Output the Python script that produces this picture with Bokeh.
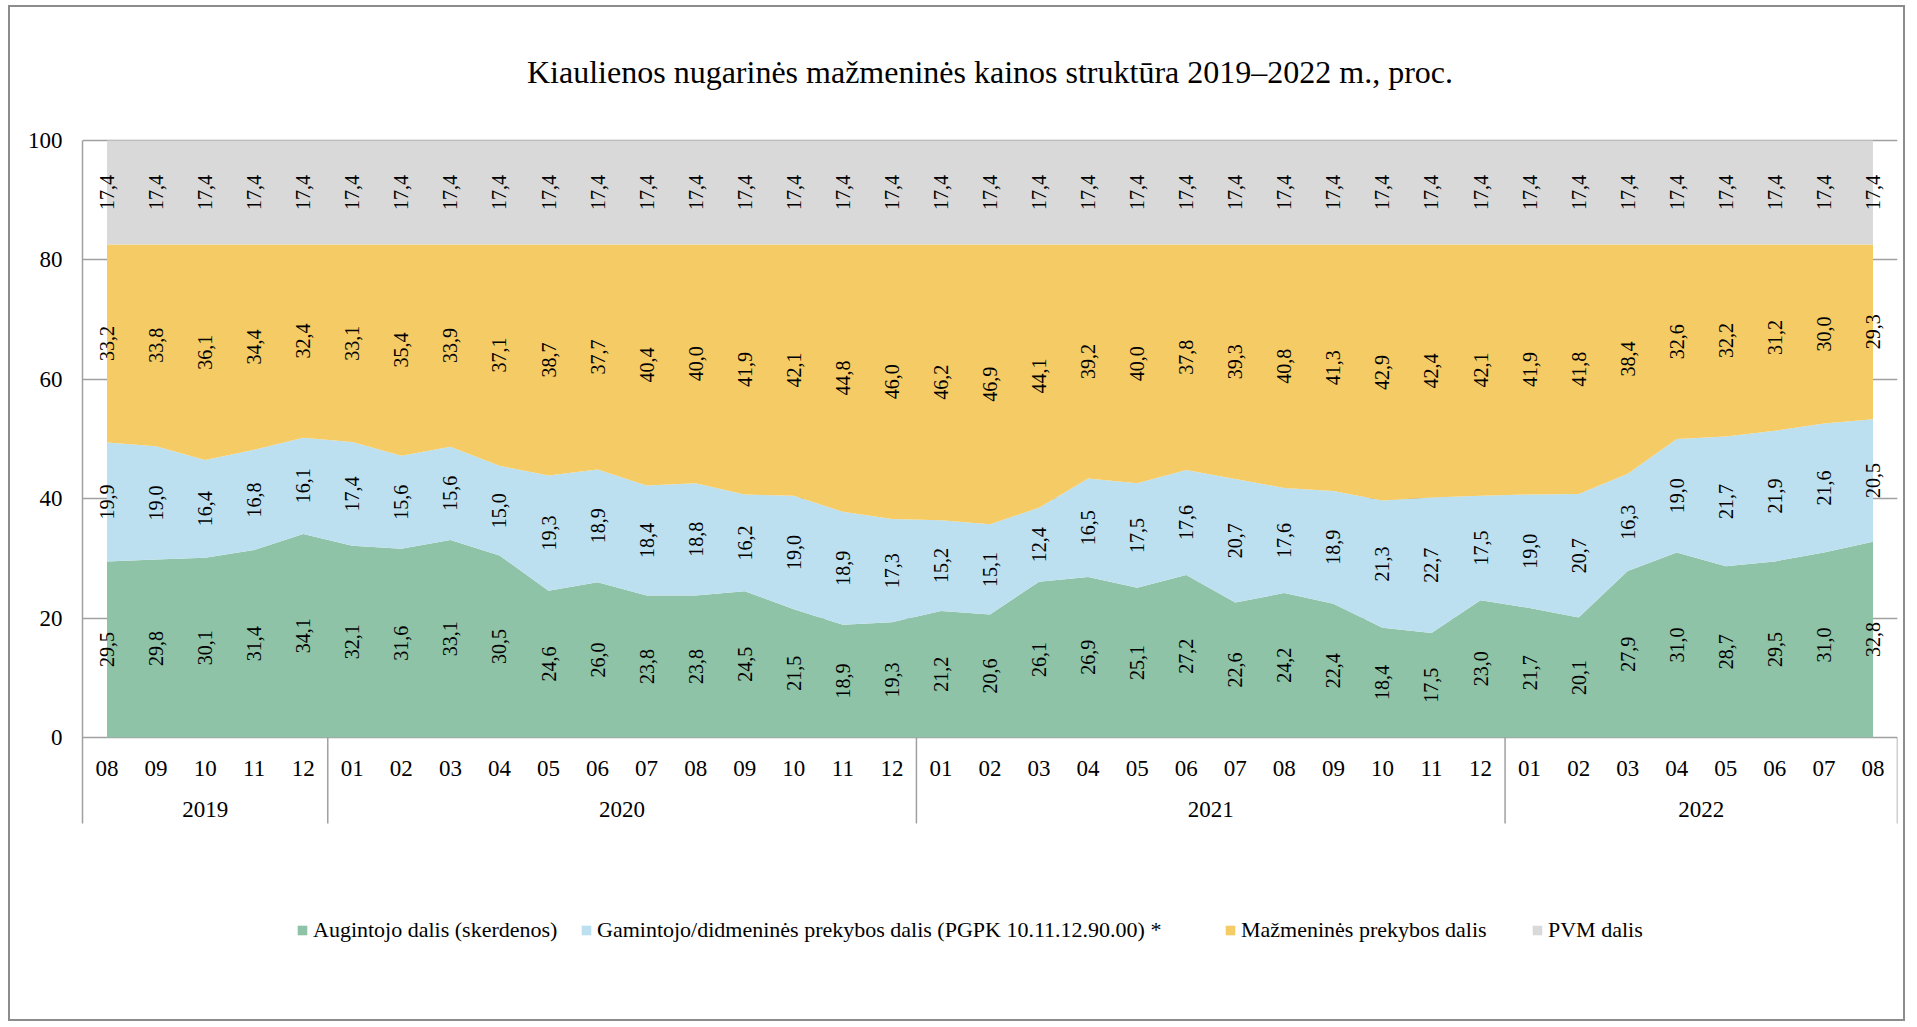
import numpy as np
from bokeh.plotting import figure
from bokeh.models import ColumnDataSource, Range1d, FixedTicker, Legend, LegendItem
from bokeh.core.properties import value
from bokeh.embed import file_html
from bokeh.resources import INLINE

# ---------------- data ----------------
title_text = "Kiaulienos nugarinės mažmeninės kainos struktūra 2019–2022 m., proc."
years = ["2019", "2020", "2021", "2022"]
months = [
    ["08", "09", "10", "11", "12"],
    ["01", "02", "03", "04", "05", "06", "07", "08", "09", "10", "11", "12"],
    ["01", "02", "03", "04", "05", "06", "07", "08", "09", "10", "11", "12"],
    ["01", "02", "03", "04", "05", "06", "07", "08"],
]
series_names = [
    "Augintojo dalis (skerdenos)",
    "Gamintojo/didmeninės prekybos dalis (PGPK 10.11.12.90.00) *",
    "Mažmeninės prekybos dalis",
    "PVM dalis",
]
augintojo = [29.5, 29.8, 30.1, 31.4, 34.1,
             32.1, 31.6, 33.1, 30.5, 24.6, 26.0, 23.8, 23.8, 24.5, 21.5, 18.9, 19.3,
             21.2, 20.6, 26.1, 26.9, 25.1, 27.2, 22.6, 24.2, 22.4, 18.4, 17.5, 23.0,
             21.7, 20.1, 27.9, 31.0, 28.7, 29.5, 31.0, 32.8]
gamintojo = [19.9, 19.0, 16.4, 16.8, 16.1,
             17.4, 15.6, 15.6, 15.0, 19.3, 18.9, 18.4, 18.8, 16.2, 19.0, 18.9, 17.3,
             15.2, 15.1, 12.4, 16.5, 17.5, 17.6, 20.7, 17.6, 18.9, 21.3, 22.7, 17.5,
             19.0, 20.7, 16.3, 19.0, 21.7, 21.9, 21.6, 20.5]
mazmenine = [33.2, 33.8, 36.1, 34.4, 32.4,
             33.1, 35.4, 33.9, 37.1, 38.7, 37.7, 40.4, 40.0, 41.9, 42.1, 44.8, 46.0,
             46.2, 46.9, 44.1, 39.2, 40.0, 37.8, 39.3, 40.8, 41.3, 42.9, 42.4, 42.1,
             41.9, 41.8, 38.4, 32.6, 32.2, 31.2, 30.0, 29.3]
pvm = [17.4, 17.4, 17.4, 17.4, 17.4,
       17.4, 17.4, 17.4, 17.4, 17.4, 17.4, 17.4, 17.4, 17.4, 17.4, 17.4, 17.4,
       17.4, 17.4, 17.4, 17.4, 17.4, 17.4, 17.4, 17.4, 17.4, 17.4, 17.4, 17.4,
       17.4, 17.4, 17.4, 17.4, 17.4, 17.4, 17.4, 17.4]
y_ticks = [0, 20, 40, 60, 80, 100]

# ---------------- styles ----------------
colors = ["#8EC3A7", "#BDE0F0", "#F5CB65", "#D9D9D9"]
FONT = "Liberation Serif"
AXIS_COL = "#A0A0A0"

# ---------------- layout (page pixels) ----------------
MARGIN_L, MARGIN_T = 8, 5
BORDER = 2
W, H = 1897, 1016
ORIGIN_X = MARGIN_L + BORDER     # canvas origin on page
ORIGIN_Y = MARGIN_T + BORDER
FRAME_L, FRAME_R = 82, 1897      # page x of frame edges
FRAME_T, FRAME_B = ORIGIN_Y, ORIGIN_Y + H - 2  # page y of frame edges
Y0_PX, Y100_PX = 737, 140        # page y of values 0 and 100
upp = 100.0 / (Y0_PX - Y100_PX)  # data units per pixel (y)


def ypx(py):
    return (Y0_PX - py) * upp


n = len(augintojo)
x = list(range(n))
series = [augintojo, gamintojo, mazmenine, pvm]
keys = ["a", "g", "m", "p"]
src = ColumnDataSource(dict(x=x, **{k: s for k, s in zip(keys, series)}))

p = figure(width=W, height=H, output_backend="svg", toolbar_location=None,
           x_range=Range1d(-0.5, n - 0.5),
           y_range=Range1d(ypx(FRAME_B), ypx(FRAME_T)),
           min_border_left=FRAME_L - ORIGIN_X, min_border_right=W - (FRAME_R - ORIGIN_X),
           min_border_top=0, min_border_bottom=H - (FRAME_B - ORIGIN_Y))
p.styles = {"border": f"{BORDER}px solid #8C8C8C",
            "margin": f"{MARGIN_T}px 0px 0px {MARGIN_L}px"}
p.outline_line_color = None
p.background_fill_color = "white"
p.border_fill_color = "white"
p.xaxis.visible = False
p.xgrid.visible = False

# y axis
ya = p.yaxis[0]
ya.ticker = FixedTicker(ticks=y_ticks)
ya.bounds = (ypx(823), 100)
ya.axis_line_color = AXIS_COL
ya.axis_line_width = 1.5
ya.major_tick_line_color = None
ya.minor_tick_line_color = None
ya.major_tick_out = 0
ya.major_tick_in = 0
ya.major_label_standoff = 20
ya.major_label_text_font = FONT
ya.major_label_text_font_size = "23px"
ya.major_label_text_color = "black"
p.ygrid.ticker = FixedTicker(ticks=y_ticks)
p.ygrid.grid_line_color = AXIS_COL
p.ygrid.grid_line_width = 1.5

# stacked areas
areas = p.varea_stack(stackers=keys, x="x", source=src, color=colors)

# data labels
lx, ly, lt = [], [], []
bottom = np.zeros(n)
for s in series:
    arr = np.array(s)
    for i in range(n):
        lx.append(i)
        ly.append(bottom[i] + arr[i] / 2)
        lt.append(f"{arr[i]:.1f}".replace(".", ","))
    bottom = bottom + arr
p.text(x=lx, y=ly, text=lt, angle=np.pi / 2, text_align="center", text_baseline="middle",
       text_font=value(FONT), text_font_size="20px", text_color="black")

# category axis: months, years and separators
mx, mt, yx, yt, sep = [], [], [], [], []
idx = 0
for yr, ms in zip(years, months):
    start = idx
    for m in ms:
        mx.append(idx)
        mt.append(m)
        idx += 1
    yx.append((start + idx - 1) / 2)
    yt.append(yr)
    sep.append(idx - 0.5)
p.text(x=mx, y=[ypx(768)] * len(mx), text=mt, text_align="center", text_baseline="middle",
       text_font=value(FONT), text_font_size="23px", text_color="black")
p.text(x=yx, y=[ypx(809)] * len(yx), text=yt, text_align="center", text_baseline="middle",
       text_font=value(FONT), text_font_size="23px", text_color="black")
p.segment(x0=sep, y0=[0] * len(sep), x1=sep, y1=[ypx(823)] * len(sep),
          line_color=AXIS_COL, line_width=1.5)

# title
p.text(x=[(n - 1) / 2], y=[ypx(71)], text=[title_text], text_align="center",
       text_baseline="middle", text_font=value(FONT), text_font_size="32px", text_color="black")

# legends (one per item, positioned as in the reference)
leg_left = [296, 580, 1224, 1531]
LEG_ROW_BOTTOM = 943
for r, name, lpx in zip(areas, series_names, leg_left):
    lg = Legend(items=[LegendItem(label=name, renderers=[r])],
                location=(lpx - FRAME_L, FRAME_B - LEG_ROW_BOTTOM),
                orientation="horizontal", padding=0, margin=0, spacing=0,
                border_line_color=None, background_fill_alpha=0,
                glyph_width=12, glyph_height=12, label_standoff=5,
                label_text_font=FONT, label_text_font_size="22px",
                label_text_color="black")
    p.add_layout(lg, "center")

open("out.html", "w").write(file_html(p, INLINE))
